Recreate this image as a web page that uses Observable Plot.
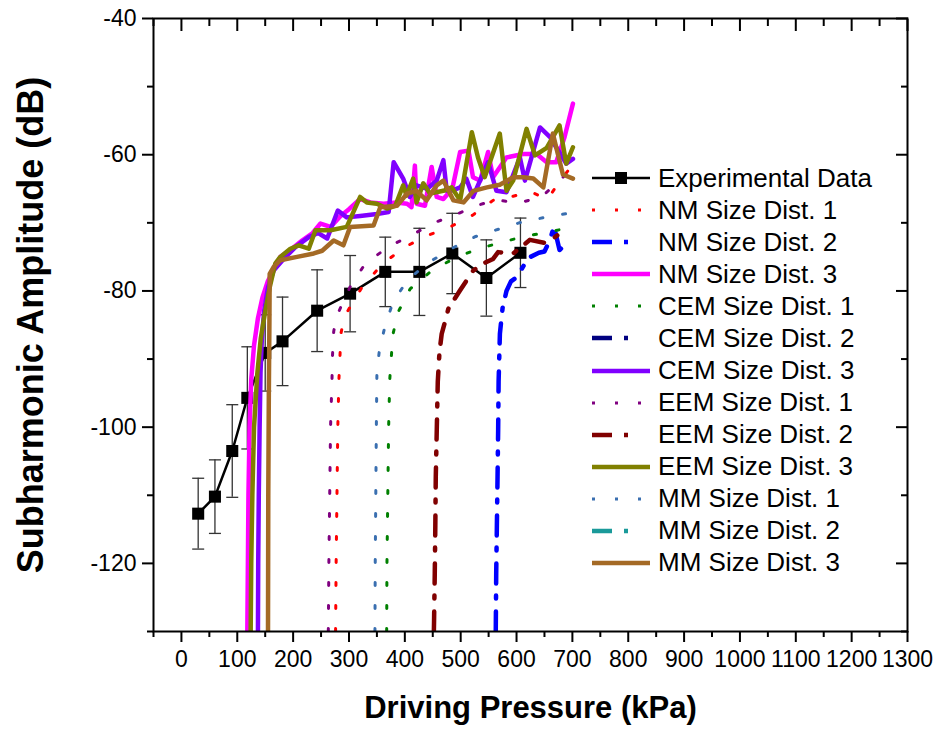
<!DOCTYPE html>
<html><head><meta charset="utf-8">
<script src="https://cdn.jsdelivr.net/npm/d3@7"></script>
<script src="https://cdn.jsdelivr.net/npm/@observablehq/plot@0.6"></script>
<style>
body{margin:0;background:#fff;}
#wrap{position:relative;width:944px;height:733px;font-family:"Liberation Sans",Arial,sans-serif;}
#legend{position:absolute;left:592px;top:162px;}
.row{display:flex;align-items:center;height:32.08px;font-size:26px;color:#000;white-space:nowrap;}
.row svg{margin-right:8px;flex:none}
</style></head><body><div id="wrap"><div id="legend"></div></div>
<script>
// ---- experimental data ----
const expX   = [30, 60, 91, 118, 150, 181, 243, 302, 365, 426, 485, 546, 607];
const expY   = [-112.7, -110.2, -103.5, -95.7, -89.1, -87.4, -82.9, -80.4, -77.2, -77.2, -74.5, -78.1, -74.4];
const expErr = [5.2, 5.4, 6.8, 7.5, 5.6, 6.5, 6.0, 5.6, 5.1, 6.4, 5.9, 5.6, 5.1];

// ---- simulated curves [pressure kPa, amplitude dB] ----
const nm1 = [[276,-130],[277,-120],[278.5,-110],[280,-100],[282,-93],[285.7,-86.2],[290,-84.5],[298,-82.9],[323,-79.5],[359,-76.1],[399,-73.6],[439,-71.9],[481,-70.6],[521,-68.9],[558,-66.7],[594,-66.1],[625,-65.4],[655,-66.6],[674,-64.3],[700,-61.5]];
const nm2 = [[562.8,-130],[563.6,-121.5],[564.8,-114.4],[566,-107.3],[567.1,-100.3],[567.9,-93.3],[570.2,-86.3],[575,-82.5],[582,-80],[590,-78.6],[600,-78],[615,-76],[625,-75],[640,-74.4],[650,-74.2],[660,-72.5],[667,-70.5],[677,-74],[690,-73]];
const nm3 = [[118,-130],[119,-120],[120,-110],[122,-100],[125,-93],[130,-88],[137,-84],[145,-81],[155,-78.5],[165,-77],[177,-75],[195,-74],[216,-72.6],[235,-71.5],[249,-70.1],[267,-70.6],[285,-69],[300,-68],[320,-66.5],[338,-67],[362,-67.2],[385,-67],[404,-67.2],[412,-67.7],[418,-61.6],[421,-67.2],[436,-67.5],[448,-61.8],[457,-66.2],[469,-66.5],[485,-65],[499,-59.6],[514,-59.4],[522,-63.3],[535,-63.8],[549,-59.6],[558,-63.3],[582,-60.4],[612,-59.9],[636,-59.9],[654,-61.1],[671,-61.1],[686,-57.4],[701,-52.5]];
const cem1 = [[367.5,-130],[368,-120],[369.5,-110],[371,-100],[373,-93],[378.6,-86.4],[388.6,-83],[409.5,-79.7],[450,-76.9],[491.6,-75.1],[531.5,-73.8],[572,-72.9],[613.6,-72],[654.6,-71.4],[695,-70.7]];
const cem2 = [];
const cem3 = [[137,-130],[137.5,-120],[138.5,-110],[140,-100],[141.6,-92],[144,-87],[148,-83],[155,-79.5],[165,-77],[183,-75.3],[205,-73.5],[228,-72.1],[245,-71.5],[261,-72.3],[280,-68.2],[296,-69.2],[320,-69],[350,-68.7],[371,-68.4],[380,-61.1],[397,-63.5],[409,-66.2],[421,-64.5],[440,-65],[457,-63.8],[469,-60.8],[475,-65.3],[487,-65.2],[499,-64.8],[510,-63.5],[522,-66.2],[549,-61.1],[564,-65.3],[582,-65.5],[606,-60.4],[615,-63.8],[642,-56],[660,-57.4],[671,-58.9],[689,-61.3],[701,-60.6]];
const eem1 = [[263,-130],[264,-120],[265.5,-110],[267,-100],[269.6,-93],[270.5,-89.5],[272.6,-86],[277,-84],[283,-82.8],[302,-79.4],[329,-76],[371,-73.5],[412,-71.8],[452,-70],[491,-68.8],[525,-67.6],[561,-66.6],[603,-67.1],[645,-66.2],[683,-63.3],[700,-62]];
const eem2 = [[452,-130],[452.3,-128.6],[453.6,-121.5],[454.6,-114.4],[455.4,-107.3],[457.2,-100.3],[459,-93.3],[462,-89],[466,-86.3],[472,-84.5],[478,-82.6],[499,-79.9],[522.5,-77],[540,-76],[558,-75.3],[567,-74.3],[594,-74.5],[624,-72.5],[654,-73],[680,-71.4],[690,-71]];
const eem3 = [[124,-130],[125,-120],[127,-110],[130,-100],[136,-92],[142,-87],[150,-83],[158,-79.5],[168,-76],[177,-75],[195,-73.8],[210,-73.3],[228,-73.8],[240,-71.1],[267,-71.1],[296,-70.6],[320,-66.2],[332,-67],[350,-67.2],[368,-67.9],[383,-67.5],[397,-64.5],[403,-66],[415,-63.5],[421,-67],[433,-64.2],[445,-65.7],[469,-65.3],[484,-64.8],[499,-66.7],[520,-56.7],[531,-60.4],[543,-63.3],[570,-56.9],[582,-65.3],[594,-63.8],[618,-56.2],[633,-60.1],[654,-59],[677,-55.7],[689,-61.3],[701,-58.9]];
const mm1 = [[346.5,-130],[347,-120],[348,-110],[349,-100],[350,-92],[354.7,-88.5],[364.8,-85.1],[378.6,-81.7],[404.6,-78.4],[443,-75.8],[485.5,-73.7],[527,-72],[569,-70.9],[609,-69.9],[650.5,-69.2],[692,-68.6]];
const mm2 = [];
const mm3 = [[155,-130],[155.5,-110],[156.5,-95],[157.5,-85],[158,-77.5],[165,-76.5],[177,-75.5],[207,-75],[237,-74.5],[252,-74.1],[272.6,-72.6],[290,-73.3],[302,-70.6],[344,-70.4],[356,-67.7],[386,-67.5],[404,-65.7],[421,-65.3],[439,-66.7],[457,-64.5],[469,-63.8],[487,-66.7],[505,-67],[523,-65.3],[547,-64.8],[570,-64.4],[594,-63.3],[612,-63.3],[630,-63.5],[648,-64.8],[665,-56.9],[683,-62.9],[701,-63.5]];

const seriesNames = ["NM Size Dist. 1","NM Size Dist. 2","NM Size Dist. 3","CEM Size Dist. 1","CEM Size Dist. 2","CEM Size Dist. 3","EEM Size Dist. 1","EEM Size Dist. 2","EEM Size Dist. 3","MM Size Dist. 1","MM Size Dist. 2","MM Size Dist. 3"];
const seriesData = [nm1, nm2, nm3, cem1, cem2, cem3, eem1, eem2, eem3, mm1, mm2, mm3];

// ---- ticks ----
const xTicks = [0,100,200,300,400,500,600,700,800,900,1000,1100,1200,1300];
const xMinor = [-50,50,150,250,350,450,550,650,750,850,950,1050,1150,1250];
const yTicks = [-120,-100,-80,-60,-40];
const yMinor = [-130,-110,-90,-70,-50];

// ---- styles ----
const colors = ["#ff0000","#0000ff","#ff00ff","#008000","#000080","#8000ff","#800080","#800000","#808000","#3a6fb0","#1a9a9a","#a46a25"];
const kinds  = ["dot","dashdot","solid","dot","dashdot","solid","dot","dashdot","solid","dot","dashdot","solid"];
const dashFor = {dot: "3,20", dashdot: "20,13,3,12", solid: null};
const widthFor = {dot: 3, dashdot: 4.5, solid: 4.5};

const exp = expX.map((x, i) => ({x, y: expY[i], e: expErr[i]}));
const capSymbol = {draw(ctx) { ctx.moveTo(-6, 0); ctx.lineTo(6, 0); }};

const modelMarks = seriesData.map((arr, i) => Plot.line(arr, {
  x: d => d[0], y: d => d[1], stroke: colors[i], strokeWidth: widthFor[kinds[i]],
  strokeDasharray: dashFor[kinds[i]], strokeLinejoin: "round", clip: true
}));

const font = 23;
const chart = Plot.plot({
  width: 944, height: 733,
  marginLeft: 153, marginRight: 37, marginTop: 18, marginBottom: 102,
  style: {fontFamily: "'Liberation Sans', Arial, sans-serif", background: "#fff", color: "#000", overflow: "visible"},
  x: {domain: [-50, 1300]},
  y: {domain: [-130, -40]},
  marks: [
    // experimental data
    Plot.ruleX(exp, {x: "x", y1: d => d.y - d.e, y2: d => d.y + d.e, stroke: "#333", strokeWidth: 1.3}),
    Plot.dot(exp, {x: "x", y: d => d.y + d.e, symbol: capSymbol, r: 4, stroke: "#333", strokeWidth: 1.3, fill: "none"}),
    Plot.dot(exp, {x: "x", y: d => d.y - d.e, symbol: capSymbol, r: 4, stroke: "#333", strokeWidth: 1.3, fill: "none"}),
    Plot.line(exp, {x: "x", y: "y", stroke: "#000", strokeWidth: 2.5}),
    Plot.dot(exp, {x: "x", y: "y", symbol: "square", r: 6.8, fill: "#000"}),
    ...modelMarks,
    // axes
    Plot.axisX({ticks: xTicks, tickSize: 11, tickPadding: 8, strokeWidth: 2, fontSize: font, tickFormat: d => String(d), label: null}),
    Plot.axisX({ticks: xMinor, tickSize: 6, strokeWidth: 2, tickFormat: () => "", label: null}),
    Plot.axisX({anchor: "top", ticks: xTicks, tickSize: -12, strokeWidth: 2, tickFormat: () => "", label: null}),
    Plot.axisX({anchor: "top", ticks: xMinor, tickSize: -7, strokeWidth: 2, tickFormat: () => "", label: null}),
    Plot.axisY({ticks: yTicks, tickSize: 11, tickPadding: 6, strokeWidth: 2, fontSize: font, tickFormat: d => String(d), label: null}),
    Plot.axisY({ticks: yMinor, tickSize: 6, strokeWidth: 2, tickFormat: () => "", label: null}),
    Plot.axisY({anchor: "right", ticks: yTicks, tickSize: -12, strokeWidth: 2, tickFormat: () => "", label: null}),
    Plot.axisY({anchor: "right", ticks: yMinor, tickSize: -7, strokeWidth: 2, tickFormat: () => "", label: null}),
    Plot.frame({stroke: "#000", strokeWidth: 2}),
    Plot.text(["Driving Pressure (kPa)"], {text: d => d, frameAnchor: "bottom", textAnchor: "middle", dy: 77, fontSize: 31, fontWeight: "bold", lineAnchor: "middle"}),
    Plot.text(["Subharmonic Amplitude (dB)"], {text: d => d, frameAnchor: "left", textAnchor: "middle", dx: -122, rotate: -90, fontSize: 36, fontWeight: "bold", lineAnchor: "middle"})
  ]
});
document.getElementById("wrap").prepend(chart);

// ---- legend ----
const legend = document.getElementById("legend");
const ns = "http://www.w3.org/2000/svg";
function addRow(name, build) {
  const row = document.createElement("div");
  row.className = "row";
  const svg = document.createElementNS(ns, "svg");
  svg.setAttribute("width", 58); svg.setAttribute("height", 20);
  build(svg);
  row.appendChild(svg);
  const span = document.createElement("span");
  span.textContent = name;
  row.appendChild(span);
  legend.appendChild(row);
}
function seg(svg, stroke, w, dash) {
  const l = document.createElementNS(ns, "line");
  l.setAttribute("x1", 0); l.setAttribute("x2", 58); l.setAttribute("y1", 10); l.setAttribute("y2", 10);
  l.setAttribute("stroke", stroke); l.setAttribute("stroke-width", w);
  if (dash) l.setAttribute("stroke-dasharray", dash);
  svg.appendChild(l);
}
addRow("Experimental Data", svg => {
  seg(svg, "#000", 2.5, null);
  const r = document.createElementNS(ns, "rect");
  r.setAttribute("x", 23); r.setAttribute("y", 4); r.setAttribute("width", 12); r.setAttribute("height", 12); r.setAttribute("fill", "#000");
  svg.appendChild(r);
});
seriesNames.forEach((name, i) => addRow(name, svg => {
  const k = kinds[i];
  seg(svg, colors[i], widthFor[k], k === "dashdot" ? "20,12,4,60" : dashFor[k]);
}));
</script></body></html>
